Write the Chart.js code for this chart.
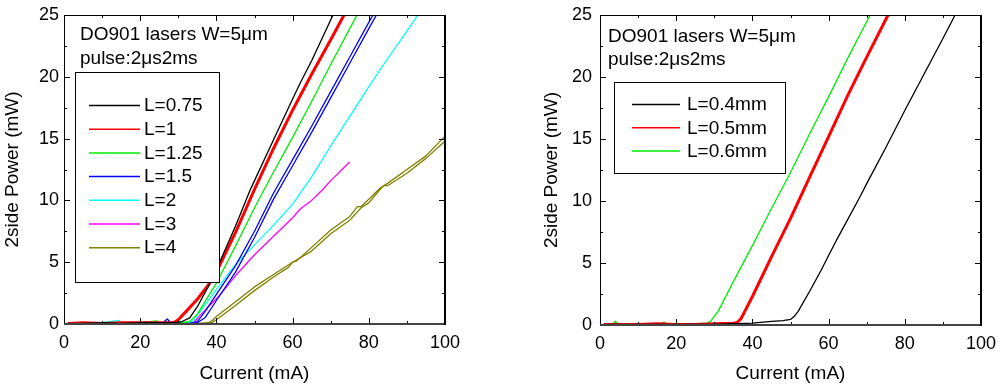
<!DOCTYPE html>
<html>
<head>
<meta charset="utf-8">
<script src="https://cdn.jsdelivr.net/npm/chart.js@4.4.0/dist/chart.umd.min.js"></script>
<style>
  html, body { margin: 0; padding: 0; background: #fff; }
  #wrap { position: relative; width: 1001px; height: 389px; overflow: hidden; }
  canvas { position: absolute; top: 0; }
  #leftChart { left: 0; }
  #rightChart { left: 537px; }
</style>
</head>
<body>
<div id="wrap">
  <canvas id="leftChart" width="460" height="389"></canvas>
  <canvas id="rightChart" width="464" height="389"></canvas>
</div>
<script>
// tick labels
const currentTicks = [0, 20, 40, 60, 80, 100];
const powerTicks = [0, 5, 10, 15, 20, 25];

// ---- left chart: cavity length (mm) ----
const l075I = [1, 5, 10, 15, 20, 25, 28, 30, 31, 33, 35, 38, 40, 45, 48.8, 50, 55, 60, 62, 65, 70.6];
const l075P = [0.05, 0.05, 0.1, 0.05, 0.1, 0.1, 0.1, 0.15, 0.2, 0.5, 1.4, 3.1, 4.4, 7.9, 10.8, 11.6, 14.9, 18.2, 19.5, 21.3, 25];

const l1I = [1, 5, 10, 15, 20, 25, 28, 29, 30, 32, 35, 38, 40, 45, 50, 55, 60, 65, 70, 73.5];
const l1P = [0.05, 0.1, 0.05, 0.1, 0.1, 0.1, 0.1, 0.15, 0.35, 1.0, 2.0, 3.2, 4.2, 7.4, 10.9, 14.2, 17.3, 20.2, 23.0, 25];

const l125I = [1, 5, 10, 15, 20, 24.4, 25, 30, 33, 35, 40, 45, 50, 55, 60, 65, 70, 75, 76.9];
const l125P = [0.05, 0.05, 0.1, 0.05, 0.1, 0.25, 0.1, 0.1, 0.2, 0.8, 3.3, 6.3, 9.4, 12.3, 15.1, 18.0, 21.0, 23.9, 25];

const l15I = [1, 5, 10, 15, 20, 25, 26, 27.1, 28, 30, 33, 35, 37, 40, 45, 50, 55, 60, 65, 70, 75, 80, 81.1];
const l15P = [0.05, 0.05, 0.1, 0.05, 0.1, 0.05, 0.1, 0.4, 0.1, 0.05, 0.05, 0.2, 1.0, 2.4, 4.7, 7.5, 10.6, 13.3, 16.0, 18.8, 21.6, 24.4, 25];
const l15bI = [34, 35, 37, 40, 45, 50, 55, 60, 65, 70, 75, 80, 82];
const l15bP = [0.05, 0.1, 0.5, 1.9, 4.2, 7.0, 10.1, 12.8, 15.5, 18.3, 21.1, 23.9, 25];

const l2I = [1, 5, 10, 14.2, 15, 20, 25, 30, 33, 34, 36, 40, 45, 50, 55, 60, 65, 70, 75, 80, 85, 90, 92.9];
const l2P = [0.05, 0.05, 0.1, 0.3, 0.1, 0.05, 0.1, 0.1, 0.1, 0.3, 1.1, 2.8, 4.8, 6.4, 8.0, 9.7, 11.9, 14.4, 16.8, 19.2, 21.5, 23.7, 25];

const l3I = [1, 5, 10, 15, 20, 22.6, 25, 30, 34, 36, 40.5, 45, 50, 56.7, 60, 62, 65, 67, 68, 70, 75];
const l3P = [0.05, 0.05, 0.1, 0.05, 0.1, 0.2, 0.1, 0.05, 0.1, 0.8, 2.2, 3.9, 5.6, 7.6, 8.6, 9.3, 10.0, 10.6, 10.9, 11.6, 13.1];

const l4I = [1, 5, 10, 15, 20, 25, 30, 35, 38, 39, 40, 45, 50, 55, 60, 61, 65, 70, 75, 77, 78, 80, 83, 85, 90, 95, 100];
const l4P = [0.05, 0.05, 0.1, 0.05, 0.1, 0.05, 0.1, 0.05, 0.1, 0.3, 0.6, 1.8, 3.0, 4.0, 5.0, 5.1, 6.2, 7.6, 8.7, 9.5, 9.5, 10.1, 11.0, 11.4, 12.5, 13.6, 15.2];
const l4bI = [38, 39, 40, 45, 50, 55, 59, 60, 65, 70, 75, 78, 80, 83, 84, 85, 90, 95, 100];
const l4bP = [0.05, 0.15, 0.35, 1.5, 2.7, 3.8, 4.6, 5.0, 5.9, 7.3, 8.4, 9.4, 9.8, 10.9, 11.2, 11.2, 12.2, 13.4, 14.8];

// ---- right chart ----
const m04I = [1, 5, 10, 15, 20, 25, 30, 35, 40, 45, 48, 50, 51, 52, 55, 58, 60, 62, 65, 68, 70, 75, 80, 85, 90, 93.2];
const m04P = [0.05, 0.05, 0.05, 0.05, 0.05, 0.05, 0.05, 0.1, 0.15, 0.3, 0.35, 0.45, 0.7, 1.1, 2.7, 4.4, 5.6, 6.8, 8.5, 10.2, 11.4, 14.3, 17.3, 20.2, 23.1, 25];

const m05I = [1, 5, 10, 15, 20, 25, 30, 35, 36, 37, 38, 40, 45, 50, 55, 60, 65, 70, 75.6];
const m05P = [0.05, 0.05, 0.05, 0.1, 0.05, 0.05, 0.1, 0.15, 0.2, 0.5, 1.1, 2.3, 5.5, 8.6, 11.9, 15.2, 18.5, 21.6, 25];

const m06I = [1, 3.2, 4, 4.8, 10, 16, 16.8, 17.6, 20, 25, 28, 29, 30, 30.6, 31, 35, 40, 45, 50, 55, 60, 65, 70.9];
const m06P = [0.05, 0.05, 0.3, 0.05, 0.05, 0.05, 0.25, 0.05, 0.05, 0.1, 0.15, 0.3, 0.7, 0.95, 1.1, 3.5, 6.4, 9.4, 12.3, 15.4, 18.4, 21.5, 25];

const FONT = '"Liberation Sans", Arial, sans-serif';

function pts(xs, ys) {
  return xs.map((x, i) => ({ x: x, y: ys[i] }));
}

function line(label, xs, ys, color, width) {
  return {
    label: label, data: pts(xs, ys), borderColor: color, backgroundColor: color,
    borderWidth: width, pointRadius: 0, tension: 0, fill: false, borderJoinStyle: 'round'
  };
}

// inward ticks on all four sides + box frame
const frameTicks = {
  id: 'frameTicks',
  afterDatasetsDraw(chart) {
    const { ctx, chartArea: a, scales } = chart;
    const x = scales.x, y = scales.y;
    ctx.save();
    ctx.strokeStyle = '#000';
    ctx.lineWidth = 1;
    function seg(x1, y1, x2, y2) {
      ctx.beginPath(); ctx.moveTo(x1, y1); ctx.lineTo(x2, y2); ctx.stroke();
    }
    currentTicks.forEach((v, i) => {
      const px = Math.round(x.getPixelForValue(v)) + 0.5;
      seg(px, a.bottom, px, a.bottom - 6);
      seg(px, a.top, px, a.top + 6);
      if (i < currentTicks.length - 1) {
        const mx = Math.round(x.getPixelForValue((v + currentTicks[i + 1]) / 2)) + 0.5;
        seg(mx, a.bottom, mx, a.bottom - 3);
        seg(mx, a.top, mx, a.top + 3);
      }
    });
    powerTicks.forEach((v, i) => {
      const py = Math.round(y.getPixelForValue(v)) + 0.5;
      seg(a.left, py, a.left + 6, py);
      seg(a.right, py, a.right - 6, py);
      if (i < powerTicks.length - 1) {
        const my = Math.round(y.getPixelForValue((v + powerTicks[i + 1]) / 2)) + 0.5;
        seg(a.left, my, a.left + 3, my);
        seg(a.right, my, a.right - 3, my);
      }
    });
    // frame
    seg(a.left + 0.5, a.top, a.left + 0.5, a.bottom);
    seg(a.left, a.top + 0.5, a.right, a.top + 0.5);
    ctx.lineWidth = 2;
    ctx.strokeStyle = '#444';
    seg(a.left, a.bottom, a.right + 1, a.bottom);
    ctx.strokeStyle = '#000';
    seg(a.right, a.top, a.right, a.bottom + 1);
    ctx.restore();
  }
};

// boxed legend + note text in the plot
const boxLegend = {
  id: 'boxLegend',
  afterDraw(chart, args, o) {
    const ctx = chart.ctx;
    ctx.save();
    ctx.fillStyle = '#fff';
    ctx.fillRect(o.box[0], o.box[1], o.box[2], o.box[3]);
    ctx.strokeStyle = '#000';
    ctx.lineWidth = 1;
    ctx.strokeRect(o.box[0] + 0.5, o.box[1] + 0.5, o.box[2], o.box[3]);
    ctx.font = '19px ' + FONT;
    ctx.textBaseline = 'middle';
    ctx.textAlign = 'left';
    let row = 0;
    chart.data.datasets.forEach(ds => {
      if (!ds.label) return;
      const yy = o.rowY + row * o.rowStep;
      ctx.strokeStyle = ds.borderColor;
      ctx.lineWidth = 1.5;
      ctx.beginPath();
      ctx.moveTo(o.lineX[0], yy + 0.5);
      ctx.lineTo(o.lineX[1], yy + 0.5);
      ctx.stroke();
      ctx.fillStyle = '#000';
      ctx.fillText(ds.label, o.textX, yy + 1);
      row++;
    });
    ctx.textBaseline = 'alphabetic';
    ctx.fillText('DO901 lasers W=5\u03BCm', o.note[0], o.note[1]);
    ctx.fillText('pulse:2\u03BCs2ms', o.note[0], o.note[2]);
    ctx.restore();
  }
};

function makeChart(id, datasets, yWidth, xHeight, pad, tickPad, titlePad, legendOpts) {
  return new Chart(document.getElementById(id), {
    type: 'line',
    data: { datasets: datasets },
    options: {
      responsive: false,
      animation: false,
      devicePixelRatio: 1,
      layout: { padding: pad },
      plugins: { legend: { display: false }, tooltip: { enabled: false }, boxLegend: legendOpts },
      scales: {
        x: {
          type: 'linear', min: 0, max: 100,
          afterBuildTicks: s => { s.ticks = currentTicks.map(v => ({ value: v })); },
          afterFit: s => { s.height = xHeight; s.paddingLeft = 0; s.paddingRight = 0; },
          grid: { display: false, drawTicks: false },
          border: { display: false },
          ticks: { color: '#000', font: { size: 18, family: FONT }, padding: 8, maxRotation: 0 },
          title: { display: true, text: 'Current (mA)', color: '#000', font: { size: 19, family: FONT }, padding: { top: 0, bottom: 4 } }
        },
        y: {
          min: 0, max: 25,
          afterBuildTicks: s => { s.ticks = powerTicks.map(v => ({ value: v })); },
          afterFit: s => { s.width = yWidth; s.paddingTop = 0; s.paddingBottom = 0; },
          grid: { display: false, drawTicks: false },
          border: { display: false },
          ticks: { color: '#000', font: { size: 18, family: FONT }, padding: tickPad },
          title: { display: true, text: '2side Power (mW)', color: '#000', font: { size: 19, family: FONT }, padding: { top: titlePad, bottom: 0 } }
        }
      }
    },
    plugins: [frameTicks, boxLegend]
  });
}

makeChart('leftChart', [
  line('L=0.75', l075I, l075P, '#000000', 1.3),
  line('L=1', l1I, l1P, '#ff0000', 3),
  line('L=1.25', l125I, l125P, '#00ee00', 1.3),
  line('L=1.5', l15I, l15P, '#0000ff', 1.3),
  line('', l15bI, l15bP, '#0000ff', 1.3),
  line('L=2', l2I, l2P, '#00ffff', 1.3),
  line('L=3', l3I, l3P, '#ff00ff', 1.3),
  line('L=4', l4I, l4P, '#808000', 1.3),
  line('', l4bI, l4bP, '#808000', 1.3)
], 64, 65, { top: 15, right: 15, left: 0, bottom: 0 }, 5, 1, {
  box: [75, 72, 144, 210], rowY: 105, rowStep: 23.7, lineX: [89, 140], textX: 144, note: [80, 40, 63.5]
});

makeChart('rightChart', [
  line('L=0.4mm', m04I, m04P, '#000000', 1.3),
  line('L=0.5mm', m05I, m05P, '#ff0000', 3),
  line('L=0.6mm', m06I, m06P, '#00ee00', 1.3)
], 63, 64, { top: 15, right: 20, left: 0, bottom: 0 }, 8, 3, {
  box: [77, 82, 171, 91], rowY: 104, rowStep: 23.3, lineX: [95, 143], textX: 150, note: [71, 41.5, 65]
});
</script>
</body>
</html>
